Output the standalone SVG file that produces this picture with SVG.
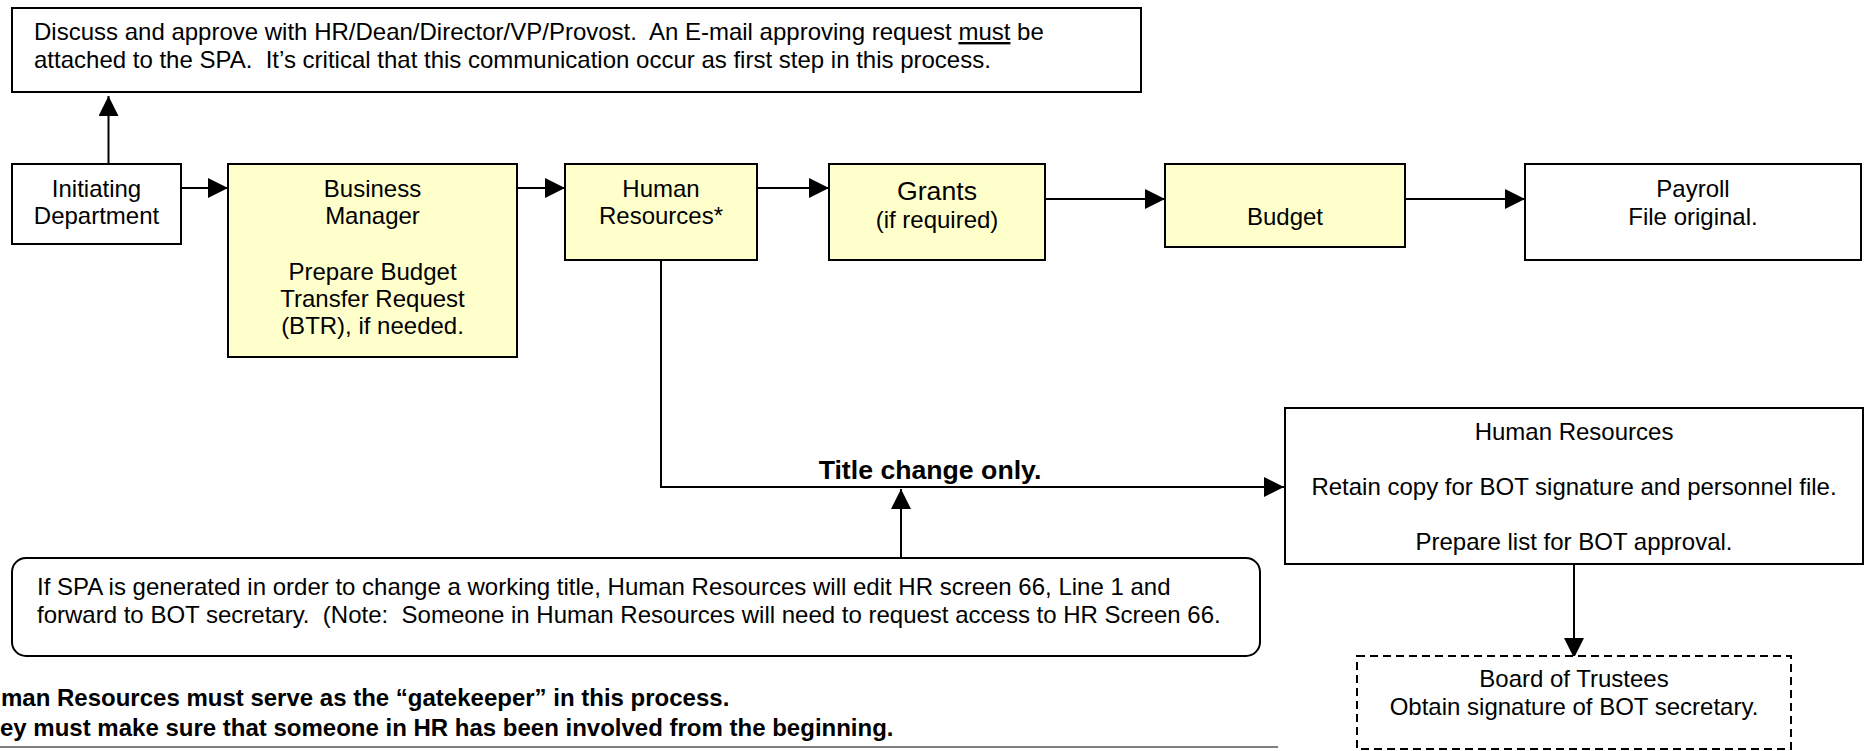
<svg xmlns="http://www.w3.org/2000/svg" width="1865" height="751" viewBox="0 0 1865 751">
<defs>
<style>
.box{fill:#fff;stroke:#000;stroke-width:2}
.yel{fill:#ffffcc;stroke:#000;stroke-width:2}
.dash{fill:#fff;stroke:#000;stroke-width:2;stroke-dasharray:8 5}
.t{font-family:"Liberation Sans",Arial,sans-serif;font-size:24px;fill:#000;white-space:pre}
.c{text-anchor:middle}
.big{font-size:26.67px}
.b{font-weight:bold}
.conn{fill:none;stroke:#000;stroke-width:2}
</style>
<marker id="ah" viewBox="0 0 20 20" refX="20" refY="10" markerWidth="20" markerHeight="20" markerUnits="userSpaceOnUse" orient="auto">
<path d="M0,0 L20,10 L0,20 z" fill="#000"/>
</marker>
</defs>
<rect width="1865" height="751" fill="#fff"/>

<g id="connectors">
<path class="conn" d="M108.5,164 V96" marker-end="url(#ah)"/>
<path class="conn" d="M181,188 H228" marker-end="url(#ah)"/>
<path class="conn" d="M517,188 H565" marker-end="url(#ah)"/>
<path class="conn" d="M757,188 H829" marker-end="url(#ah)"/>
<path class="conn" d="M1045,199 H1165" marker-end="url(#ah)"/>
<path class="conn" d="M1405,199 H1525" marker-end="url(#ah)"/>
<path class="conn" d="M661,260 V487 H1284" marker-end="url(#ah)"/>
<path class="conn" d="M901,558 V489" marker-end="url(#ah)"/>
<path class="conn" d="M1574,564 V658" marker-end="url(#ah)"/>
<text class="t b big c" x="930" y="479">Title change only.</text>
</g>

<g id="note-top">
<rect class="box" x="12" y="8" width="1129" height="84"/>
<text class="t" x="34" y="40">Discuss and approve with HR/Dean/Director/VP/Provost.  An E-mail approving request <tspan text-decoration="underline">must</tspan> be</text>
<text class="t" x="34" y="68">attached to the SPA.  It’s critical that this communication occur as first step in this process.</text>
</g>

<g id="initiating">
<rect class="box" x="12" y="164" width="169" height="80"/>
<text class="t c" x="96.5" y="197">Initiating</text>
<text class="t c" x="96.5" y="224">Department</text>
</g>

<g id="business-manager">
<rect class="yel" x="228" y="164" width="289" height="193"/>
<text class="t c" x="372.5" y="197">Business</text>
<text class="t c" x="372.5" y="224">Manager</text>
<text class="t c" x="372.5" y="280">Prepare Budget</text>
<text class="t c" x="372.5" y="307">Transfer Request</text>
<text class="t c" x="372.5" y="334">(BTR), if needed.</text>
</g>

<g id="human-resources">
<rect class="yel" x="565" y="164" width="192" height="96"/>
<text class="t c" x="661" y="197">Human</text>
<text class="t c" x="661" y="224">Resources*</text>
</g>

<g id="grants">
<rect class="yel" x="829" y="164" width="216" height="96"/>
<text class="t c big" x="937" y="200">Grants</text>
<text class="t c" x="937" y="228">(if required)</text>
</g>

<g id="budget">
<rect class="yel" x="1165" y="164" width="240" height="83"/>
<text class="t c" x="1285" y="225">Budget</text>
</g>

<g id="payroll">
<rect class="box" x="1525" y="164" width="336" height="96"/>
<text class="t c" x="1693" y="197">Payroll</text>
<text class="t c" x="1693" y="225">File original.</text>
</g>

<g id="hr-bot">
<rect class="box" x="1285" y="408" width="578" height="156"/>
<text class="t c" x="1574" y="440">Human Resources</text>
<text class="t c" x="1574" y="495">Retain copy for BOT signature and personnel file.</text>
<text class="t c" x="1574" y="550">Prepare list for BOT approval.</text>
</g>

<g id="board-of-trustees">
<rect class="dash" x="1357" y="656" width="434" height="93"/>
<text class="t c" x="1574" y="687">Board of Trustees</text>
<text class="t c" x="1574" y="715">Obtain signature of BOT secretary.</text>
</g>

<g id="callout">
<rect class="box" x="12" y="558" width="1248" height="98" rx="14" ry="14"/>
<text class="t" x="37" y="595">If SPA is generated in order to change a working title, Human Resources will edit HR screen 66, Line 1 and</text>
<text class="t" x="37" y="623">forward to BOT secretary.  (Note:  Someone in Human Resources will need to request access to HR Screen 66.</text>
</g>

<g id="footnote">
<text class="t b" x="1" y="706">man Resources must serve as the “gatekeeper” in this process.</text>
<text class="t b" x="0" y="736">ey must make sure that someone in HR has been involved from the beginning.</text>
<line x1="0" y1="747" x2="1278" y2="747" stroke="#808080" stroke-width="2"/>
</g>
</svg>
